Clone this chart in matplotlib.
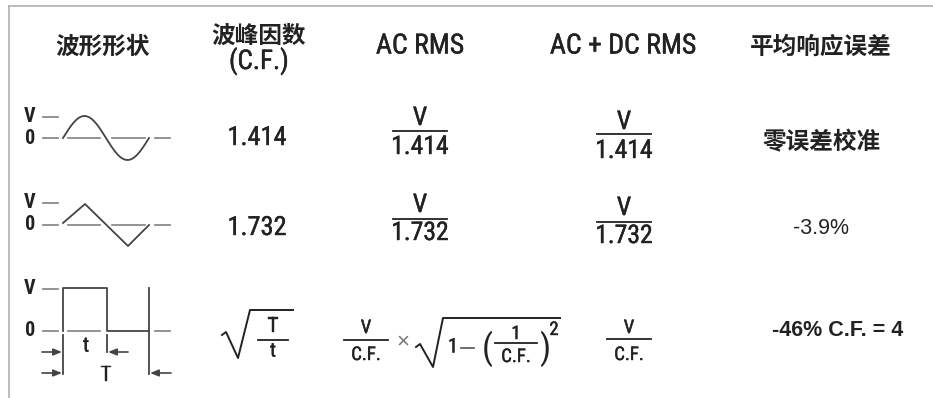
import numpy as np
import matplotlib.pyplot as plt
import matplotlib.patheffects as pe

# table content
headers = ['波形形状', '波峰因数', '(C.F.)', 'AC RMS', 'AC + DC RMS', '平均响应误差']
crest_factors = ['1.414', '1.732']
ac_rms_denoms = ['1.414', '1.732']
acdc_rms_denoms = ['1.414', '1.732']
avg_errors = ['零误差校准', '-3.9%', '-46% C.F. = 4']
level_labels = ['V', '0']

NARROW = ['Liberation Sans Narrow', 'Roboto Condensed', 'DejaVu Sans Condensed', 'Roboto']
CJK = ['Noto Sans CJK SC', 'DejaVu Sans']
PLAIN = ['Liberation Sans', 'DejaVu Sans']
INK = '#222222'
WAVE = '#444444'
DASH = '#808080'
# a thin outline gives the condensed face a slightly heavier look
SEMI = [pe.withStroke(linewidth=0.3, foreground=INK)]

fig = plt.figure(figsize=(9.33, 3.98), dpi=100)
ax = fig.add_axes([0, 0, 1, 1])
ax.set_xlim(0, 933)
ax.set_ylim(398, 0)
ax.axis('off')

# frame (top and left only)
ax.plot([9, 933], [6, 6], color='#b0b0b0', lw=1.2)
ax.plot([9, 9], [6, 398], color='#b0b0b0', lw=1.2)


def narrow(x, y, s, size, weight='normal'):
    ax.text(x, y, s, family=NARROW, weight=weight, fontsize=size, color=INK,
            ha='center', va='center', path_effects=SEMI if weight == 'normal' else None)


# header row
ax.text(103, 47, headers[0], family=CJK, weight='bold', fontsize=17, color=INK, ha='center', va='center')
ax.text(259, 36, headers[1], family=CJK, weight='bold', fontsize=17, color=INK, ha='center', va='center')
narrow(259, 61, headers[2], 19.5)
narrow(420, 46, headers[3], 20)
narrow(623, 46, headers[4], 20)
ax.text(821, 47, headers[5], family=CJK, weight='bold', fontsize=17, color=INK, ha='center', va='center')


def fraction(x, y_num, y_bar, y_den, num, den, half, size):
    narrow(x, y_num, num, size)
    ax.plot([x - half, x + half], [y_bar, y_bar], color=INK, lw=1.3)
    narrow(x, y_den, den, size)


def levels(y_v, y_0):
    narrow(30, y_v, level_labels[0], 14.5, 'bold')
    narrow(30, y_0, level_labels[1], 14.5, 'bold')
    ax.plot([43, 58], [y_v, y_v], color=DASH, lw=1.2)


def zero_dashes(y0, segs):
    for a, b in segs:
        ax.plot([a, b], [y0, y0], color=DASH, lw=1.2)


# row 1: sine
y0 = 138
levels(117, y0)
zero_dashes(y0, [(43, 58), (68, 100), (112, 145), (155, 170)])
xs = np.linspace(63, 149, 200)
ax.plot(xs, y0 - 22 * np.sin((xs - 63) / 86 * 2 * np.pi), color=WAVE, lw=1.3)

# row 2: triangle
y0 = 225
levels(203, y0)
zero_dashes(y0, [(43, 58), (68, 100), (112, 145), (155, 170)])
ax.plot([63, 85, 128, 149], [y0 - 2, y0 - 21, y0 + 21, y0], color=WAVE, lw=1.3)

# row 3: pulse
y0 = 331
levels(289, y0)
zero_dashes(y0, [(43, 58), (68, 100), (155, 170)])
ax.plot([63, 63, 107, 107, 149, 149], [y0, 288, 288, y0, y0, 288], color=WAVE, lw=1.3)
ax.plot([63, 63], [335, 374], color=WAVE, lw=1.3)
ax.plot([107, 107], [335, 352], color=WAVE, lw=1.3)
ax.plot([149, 149], [y0, 374], color=WAVE, lw=1.3)
arrow = dict(arrowstyle='-|>,head_length=0.5,head_width=0.2', color=WAVE, lw=1.2, shrinkA=0, shrinkB=0)
ax.annotate('', xy=(62, 352), xytext=(42, 352), arrowprops=arrow)
ax.annotate('', xy=(108, 352), xytext=(128, 352), arrowprops=arrow)
ax.annotate('', xy=(62, 373), xytext=(42, 373), arrowprops=arrow)
ax.annotate('', xy=(150, 373), xytext=(171, 373), arrowprops=arrow)
narrow(86, 346, 't', 15)
narrow(106, 375, 'T', 15)

# crest factor column
for y, cf in zip([138, 228], crest_factors):
    narrow(257, y, cf, 19)
ax.plot([222, 226, 238, 250, 293], [335, 332, 358, 310, 310], color=INK, lw=1.4)
fraction(273, 326, 340, 351, 'T', 't', 15, 14.5)

# AC RMS column
fraction(420, 118, 131, 147, 'V', ac_rms_denoms[0], 27, 18.5)
fraction(420, 205, 219, 233, 'V', ac_rms_denoms[1], 27, 18.5)
fraction(366, 328, 340, 355, 'V', 'C.F.', 22, 13.5)
ax.text(403, 342, '×', family=PLAIN, fontsize=16, color='#777777', ha='center', va='center')
ax.plot([416, 420, 433, 443, 560], [347, 344, 367, 318, 318], color=INK, lw=1.4)
narrow(453, 347, '1', 14.5)
ax.plot([461, 474], [348, 348], color='#555555', lw=1.2)
ax.text(487, 349, '(', family=NARROW, fontsize=25, color=INK, ha='center', va='center')
fraction(516, 334, 343, 357, '1', 'C.F.', 21, 13.5)
ax.text(545, 349, ')', family=NARROW, fontsize=25, color=INK, ha='center', va='center')
narrow(554, 330, '2', 13.5)

# AC + DC RMS column
fraction(624, 122, 134, 151, 'V', acdc_rms_denoms[0], 27, 18.5)
fraction(624, 208, 222, 236, 'V', acdc_rms_denoms[1], 27, 18.5)
fraction(629, 328, 339, 355, 'V', 'C.F.', 22, 13.5)

# average response error column
ax.text(822, 142, avg_errors[0], family=CJK, weight='bold', fontsize=17, color=INK, ha='center', va='center')
ax.text(821, 228, avg_errors[1], family=PLAIN, fontsize=15.5, color=INK, ha='center', va='center')
ax.text(838, 331, avg_errors[2], family=PLAIN, weight='bold', fontsize=15.5, color=INK, ha='center', va='center')

fig.savefig('out.png', dpi=100)
